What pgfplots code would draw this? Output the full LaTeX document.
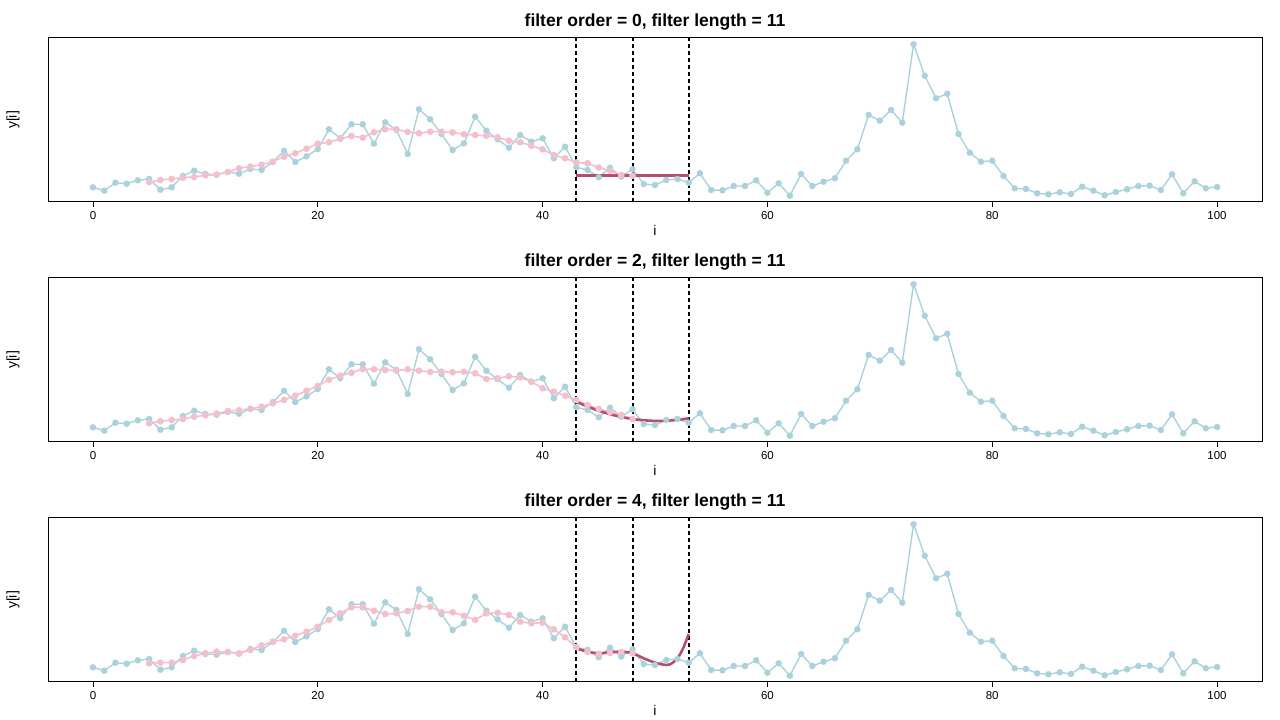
\documentclass[border=0pt]{standalone}
\usepackage{fontspec}
\setmainfont{Liberation Sans}
\usepackage{pgfplots}
\pgfplotsset{compat=1.18}
\usepackage{pgfplotstable}

\definecolor{lblue}{HTML}{A9D2DC}
\definecolor{lpink}{HTML}{F4BFCC}
\definecolor{dred}{HTML}{B64E6F}

\pgfplotstableread{
i y
0 14.7
1 11.3
2 19.3
3 18.3
4 21.7
5 23
6 12.3
7 14.7
8 26
9 31.3
10 28
11 27.3
12 30
13 28.3
14 33
15 32
16 40
17 51.3
18 40
19 45.7
20 53
21 72.7
22 63.7
23 77.7
24 77.7
25 58.3
26 79.7
27 72
28 48
29 92.7
30 82.7
31 68
32 52
33 58.7
34 85.3
35 71.3
36 62.7
37 54.3
38 67
39 60.3
40 63.7
41 43.7
42 55.3
43 34.7
44 32
45 24.7
46 34.3
47 25.3
48 32.7
49 18
50 17
51 22
52 23
53 19.3
54 28.7
55 12
56 11.7
57 16
58 16
59 21.7
60 9.3
61 18.7
62 6.3
63 28
64 16
65 20.3
66 23.7
67 41.3
68 52.7
69 87
70 81.3
71 92
72 79.3
73 157.7
74 126.3
75 103.7
76 108.3
77 68
78 49.3
79 40.3
80 41.3
81 26
82 13.7
83 13
84 8.7
85 7.7
86 9.7
87 8
88 15.3
89 11.3
90 6.7
91 10
92 12.7
93 16
94 16.3
95 12
96 27.7
97 8.7
98 20.7
99 13.7
100 15
}\bluedata

\pgfplotstableread{
i y
5 20
6 22
7 23
8 24.3
9 25
10 26.7
11 27.3
12 30
13 33.7
14 35.3
15 37.3
16 40.3
17 45.3
18 48.7
19 53.3
20 58.3
21 59.7
22 63.2
23 66
24 64.3
25 69.7
26 72.7
27 72.7
28 70
29 68.7
30 70.3
31 70.3
32 69.5
33 67.7
34 67
35 66.3
36 64.7
37 61.3
38 59.7
39 56.3
40 52.7
41 47
42 43.7
43 39.5
44 38.7
45 34.5
46 31.3
47 27
48 26.3
}\pinkA

\pgfplotstableread{
i y
5 18.7
6 20.7
7 22
8 23
9 25.3
10 26.7
11 28.3
12 31
13 31.7
14 33.3
15 35.3
16 38.7
17 42
18 46.3
19 51.3
20 56
21 62.3
22 66.3
23 69.3
24 73
25 72.7
26 72
27 71.3
28 72.7
29 71.3
30 70
31 70.3
32 69.7
33 70.3
34 68.7
35 63
36 63.7
37 65.7
38 64.7
39 60.3
40 53.7
41 50.3
42 46.3
43 42
44 37
45 33
46 30
47 27
48 23
}\pinkB

\pgfplotstableread{
i y
5 18.7
6 19.3
7 19.3
8 22
9 26
10 28.7
11 30.3
12 30
13 28.7
14 32
15 36.7
16 40.3
17 42.7
18 46.3
19 50.3
20 55.3
21 62
22 68.7
23 74.7
24 74.7
25 71.3
26 68
27 68.7
28 71
29 75.3
30 75.3
31 69.7
32 69.7
33 66.3
34 62
35 68.7
36 69.3
37 67
38 60.3
39 58.7
40 59.3
41 52.7
42 44.7
43 35
44 30
45 28
46 29
47 30
48 28.7
}\pinkC

\pgfplotstableread{
i y
43 26.3
53 26.3
}\redA

\pgfplotstableread{
i y
43 40.3
44 35.4
45 31.2
46 27.8
47 25.0
48 23.0
49 21.7
50 21.1
51 21.3
52 22.1
53 23.7
}\redB

\pgfplotstableread{
i y
43 33.7
44 30.3
45 28.7
46 29.7
47 30.3
48 28.7
49 23.7
50 19.3
51 17.0
51.5 18.7
52 23.7
52.5 33.7
53 48
}\redC

\pgfplotsset{
  panel/.style={
    scale only axis, width=1214pt, height=164pt,
    xmin=-4, xmax=104, ymin=0, ymax=164,
    ytick=\empty, xtick={0,20,...,100},
    xtick pos=lower, tick align=outside,
    major tick length=5pt,
    every tick/.style={black, line width=0.8pt},
    axis line style={black, line width=1pt},
    tick label style={font=\fontsize{11.5}{13}\selectfont},
    /pgf/number format/assume math mode=true,
    xticklabel style={yshift=-1pt},
    xlabel={i},
    xlabel style={font=\fontsize{14}{16}\selectfont, yshift=1pt},
    ylabel={y[i]},
    ylabel style={font=\fontsize{14}{16}\selectfont, yshift=20pt},
    title style={font=\bfseries\fontsize{17.5}{20}\selectfont, yshift=-2pt},
    clip=false,
  },
  bluestyle/.style={lblue, line width=1.4pt, mark=*, mark size=2.5pt, mark options={draw=lblue, fill=lblue}},
  pinkstyle/.style={lpink, line width=1.6pt, mark=*, mark size=2.5pt, mark options={draw=lpink, fill=lpink}},
  vdash/.style={black, line width=2pt, dash pattern=on 4pt off 3pt, forget plot},
  redstyle/.style={dred, line width=2.6pt, smooth},
}

\begin{document}
\begin{tikzpicture}
\path (0,0) rectangle (1280pt,720pt);

\begin{axis}[panel, at={(48pt,518pt)}, anchor=south west,
  title={filter order = 0, filter length = 11}]
\addplot[bluestyle] table {\bluedata};
\addplot[pinkstyle] table {\pinkA};
\addplot[vdash] coordinates {(43,0) (43,164)};
\addplot[vdash] coordinates {(48,0) (48,164)};
\addplot[vdash] coordinates {(53,0) (53,164)};
\addplot[redstyle, sharp plot] table {\redA};
\end{axis}

\begin{axis}[panel, at={(48pt,278pt)}, anchor=south west,
  title={filter order = 2, filter length = 11}]
\addplot[bluestyle] table {\bluedata};
\addplot[pinkstyle] table {\pinkB};
\addplot[vdash] coordinates {(43,0) (43,164)};
\addplot[vdash] coordinates {(48,0) (48,164)};
\addplot[vdash] coordinates {(53,0) (53,164)};
\addplot[redstyle] table {\redB};
\end{axis}

\begin{axis}[panel, at={(48pt,38pt)}, anchor=south west,
  title={filter order = 4, filter length = 11}]
\addplot[bluestyle] table {\bluedata};
\addplot[pinkstyle] table {\pinkC};
\addplot[vdash] coordinates {(43,0) (43,164)};
\addplot[vdash] coordinates {(48,0) (48,164)};
\addplot[vdash] coordinates {(53,0) (53,164)};
\addplot[redstyle] table {\redC};
\end{axis}
\end{tikzpicture}
\end{document}
